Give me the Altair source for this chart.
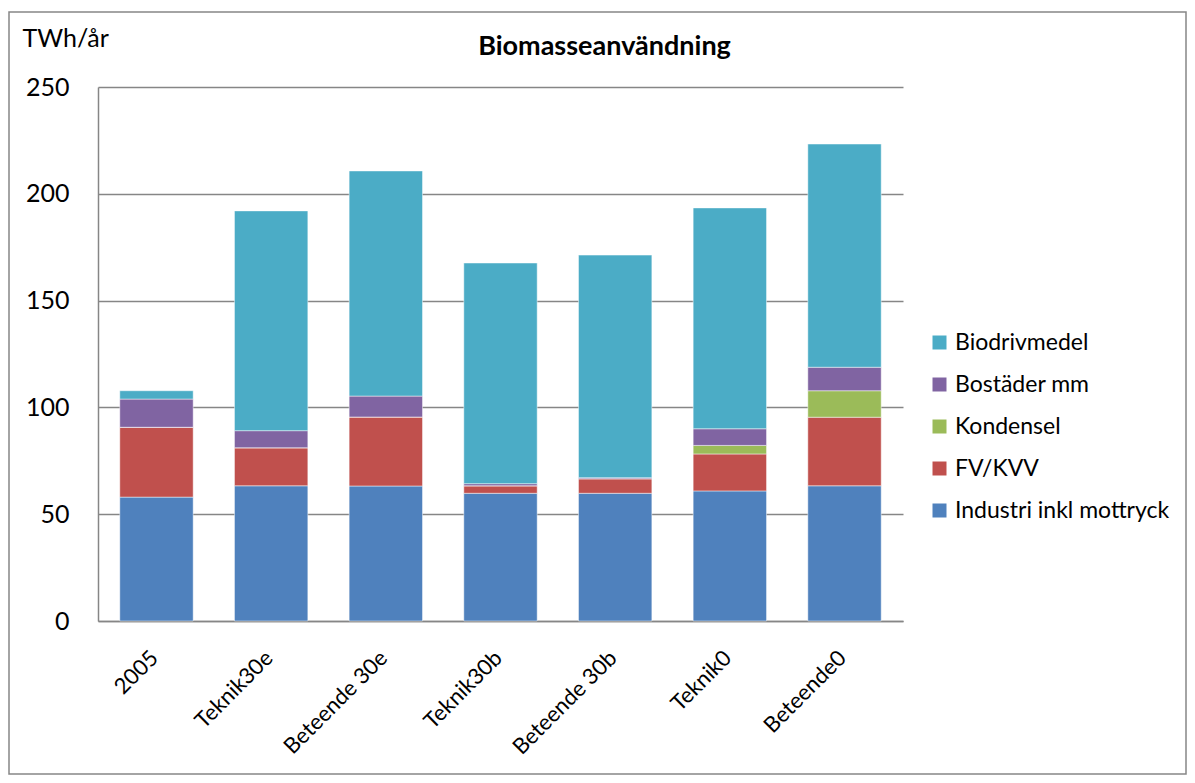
import altair as alt
import pandas as pd

categories = ["2005", "Teknik30e", "Beteende 30e", "Teknik30b", "Beteende 30b", "Teknik0", "Beteende0"]
series = ["Industri inkl  mottryck", "FV/KVV", "Kondensel", "Bostäder mm", "Biodrivmedel"]
industri = [58.0, 63.3, 63.2, 59.8, 59.8, 60.9, 63.3]
fv_kvv = [32.7, 17.8, 32.3, 3.5, 6.8, 17.3, 32.1]
kondensel = [0.0, 0.0, 0.0, 0.0, 0.0, 4.0, 12.4]
bostader = [13.2, 8.0, 9.8, 1.0, 0.5, 7.8, 11.0]
biodrivmedel = [3.9, 102.9, 105.4, 103.3, 104.2, 103.4, 104.5]
colors = ["#4F81BD", "#C0504D", "#9BBB59", "#8064A2", "#4BACC6"]

values = [industri, fv_kvv, kondensel, bostader, biodrivmedel]
rows = []
for si, (name, vals) in enumerate(zip(series, values)):
    for ci, cat in enumerate(categories):
        rows.append({"Scenario": cat, "Serie": name, "Värde": vals[ci], "ordning": si})
df = pd.DataFrame(rows)

FONT = "Lato"
GRID = "#868686"

legend_domain = series[::-1]
legend_range = colors[::-1]

bars = alt.Chart(df).mark_bar(
    stroke="white", strokeWidth=0.8, strokeOpacity=0.6
).encode(
    x=alt.X("Scenario:N", sort=categories,
            scale=alt.Scale(paddingInner=0.36, paddingOuter=0.19),
            axis=alt.Axis(title=None, labelAngle=-45, labelAlign="right",
                          labelBaseline="middle", labelFontSize=22, labelFont=FONT,
                          labelColor="black", labelPadding=33, labelOffset=-2,
                          ticks=False, domainColor=GRID, domainWidth=1.5)),
    y=alt.Y("Värde:Q", stack="zero",
            scale=alt.Scale(domain=[0, 250], nice=False),
            axis=alt.Axis(values=[0, 50, 100, 150, 200, 250], title="TWh/år",
                          titleAngle=0, titleX=-76, titleY=-41, titleAlign="left",
                          titleBaseline="alphabetic", titleFont=FONT,
                          titleFontSize=25, titleFontWeight="normal", titleColor="black",
                          labelFont=FONT, labelFontSize=25, labelColor="black",
                          labelPadding=29, ticks=False, grid=True, gridColor=GRID,
                          gridWidth=1.5, domainColor=GRID, domainWidth=1.5)),
    color=alt.Color("Serie:N",
                    scale=alt.Scale(domain=legend_domain, range=legend_range),
                    legend=alt.Legend(title=None, orient="none", legendX=830, legendY=244,
                                      symbolType="square", symbolSize=196,
                                      symbolStrokeWidth=0, labelFont=FONT,
                                      labelFontSize=23, labelColor="black", labelLimit=0,
                                      rowPadding=18, labelOffset=4)),
    order=alt.Order("ordning:Q", sort="ascending"),
)

border = alt.Chart(alt.Data(values=[{"a": 1}])).mark_rect(
    fillOpacity=0, stroke=GRID, strokeWidth=1.5
).encode(
    x=alt.value(-89), x2=alt.value(1088), y=alt.value(-75), y2=alt.value(687)
)

chart = alt.layer(border, bars).properties(
    width=805, height=534,
    title=alt.TitleParams("Biomasseanvändning", font=FONT, fontSize=27,
                          fontWeight="bold", color="black", anchor="middle",
                          dx=104, offset=-50),
    autosize=alt.AutoSizeParams(type="none"),
    padding={"left": 90, "top": 79, "right": 284, "bottom": 154},
).configure_view(stroke="transparent")

chart.save("out.html", embed_options={"renderer": "svg", "actions": False})
